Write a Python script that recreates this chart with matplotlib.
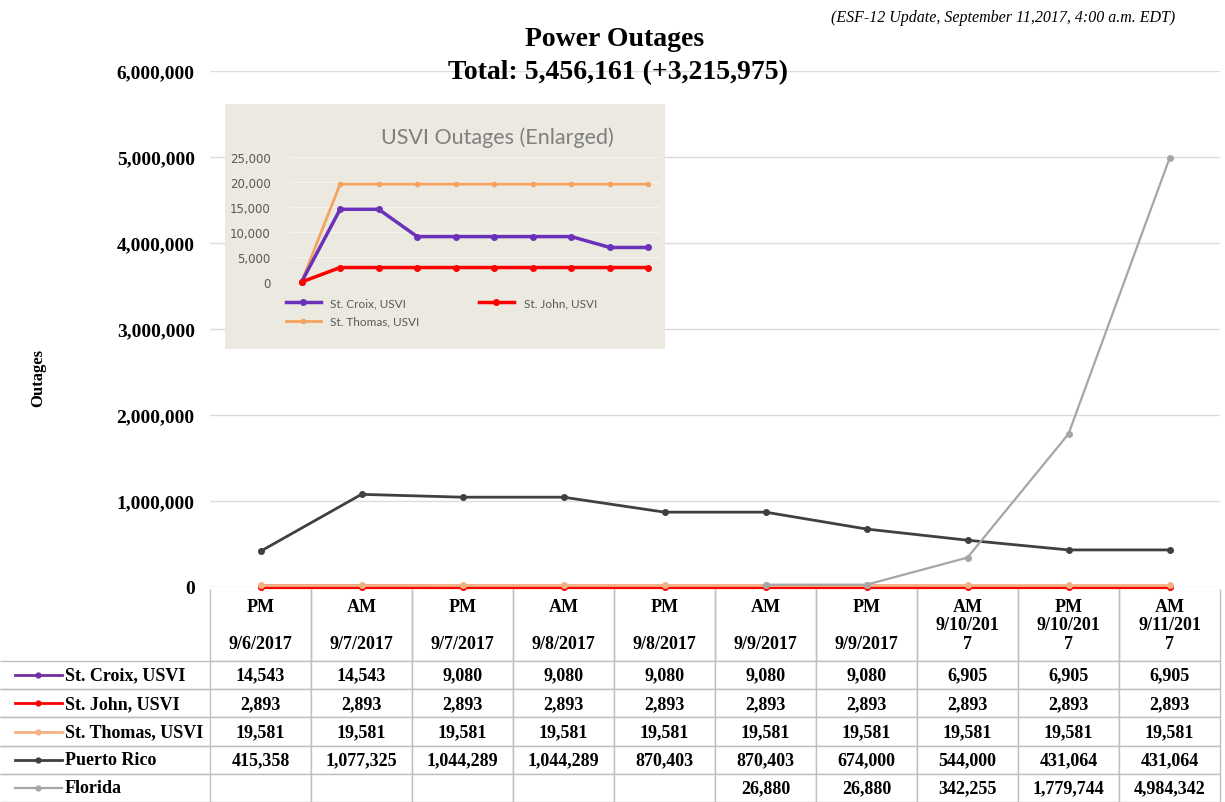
import textwrap
import numpy as np
import matplotlib
matplotlib.use("Agg")
import matplotlib.pyplot as plt
from matplotlib.table import Table
from matplotlib.font_manager import FontProperties
from matplotlib.ticker import FuncFormatter

# reporting periods
periods = ["PM", "AM", "PM", "AM", "PM", "AM", "PM", "AM", "PM", "AM"]
dates = ["9/6/2017", "9/7/2017", "9/7/2017", "9/8/2017", "9/8/2017",
         "9/9/2017", "9/9/2017", "9/10/2017", "9/10/2017", "9/11/2017"]

# customers without power
st_croix = [14543, 14543, 9080, 9080, 9080, 9080, 9080, 6905, 6905, 6905]
st_john = [2893, 2893, 2893, 2893, 2893, 2893, 2893, 2893, 2893, 2893]
st_thomas = [19581, 19581, 19581, 19581, 19581, 19581, 19581, 19581, 19581, 19581]
puerto_rico = [415358, 1077325, 1044289, 1044289, 870403, 870403, 674000, 544000, 431064, 431064]
florida = [None, None, None, None, None, 26880, 26880, 342255, 1779744, 4984342]

# USVI close-up series (starts from the pre-storm zero)
usvi_croix = [0, 14543, 14543, 9080, 9080, 9080, 9080, 9080, 6905, 6905]
usvi_john = [0, 2893, 2893, 2893, 2893, 2893, 2893, 2893, 2893, 2893]
usvi_thomas = [0, 19581, 19581, 19581, 19581, 19581, 19581, 19581, 19581, 19581]

names = ["St. Croix, USVI", "St. John, USVI", "St. Thomas, USVI", "Puerto Rico", "Florida"]
series = [st_croix, st_john, st_thomas, puerto_rico, florida]
colors = ["#7030a0", "#ff0000", "#f4b183", "#404040", "#a6a6a6"]
widths = [2.0, 3.0, 2.0, 2.0, 1.6]

serif = "Liberation Serif"
bold = FontProperties(family=serif, weight="bold", size=13)

W, H = 1225, 803
fig = plt.figure(figsize=(W / 100, H / 100), dpi=100)
ax = fig.add_axes([210 / W, 1 - 588 / H, 1010 / W, 516 / H])

x = np.arange(len(periods))
for vals, col, lw in zip(series, colors, widths):
    y = np.array([np.nan if v is None else v for v in vals], dtype=float)
    ax.plot(x, y, color=col, lw=lw, marker="o", ms=4, zorder=3, clip_on=False)

ax.set_xlim(-0.5, len(periods) - 0.5)
ax.set_ylim(0, 6000000)
ax.set_yticks(np.arange(0, 6000001, 1000000))
ax.yaxis.set_major_formatter(FuncFormatter(lambda v, p: f"{v:,.0f}"))
ax.set_xticks([])
ax.tick_params(axis="y", length=0, pad=11)
for lab in ax.get_yticklabels():
    lab.set_fontproperties(FontProperties(family=serif, weight="bold", size=14))
ax.grid(axis="y", color="#dcdcdc", lw=1)
ax.set_axisbelow(True)
for s in ax.spines.values():
    s.set_visible(False)

# data table underneath the plot
col_w = [210] + [101] * len(periods)
hdr_h, row_h = 72, 28.2
tbl = Table(ax, bbox=[-210 / 1010, (588 - 803) / 516, 1220 / 1010, 213 / 516])
edge = "#bfbfbf"
c = tbl.add_cell(0, 0, width=col_w[0], height=hdr_h, text="", fontproperties=bold)
c.visible_edges = ""
for j, (p, d) in enumerate(zip(periods, dates), start=1):
    lines = textwrap.wrap(d, 8, break_long_words=True)
    if len(lines) == 1:
        lines = [""] + lines
    c = tbl.add_cell(0, j, width=col_w[j], height=hdr_h, text="\n".join([p] + lines),
                     loc="center", edgecolor=edge, fontproperties=bold)
    c.visible_edges = "LRB"
for i, (name, vals) in enumerate(zip(names, series), start=1):
    c = tbl.add_cell(i, 0, width=col_w[0], height=row_h, text=name, loc="left",
                     edgecolor=edge, fontproperties=bold)
    c.visible_edges = "TB"
    c.PAD = 0.31
    for j, v in enumerate(vals, start=1):
        tbl.add_cell(i, j, width=col_w[j], height=row_h,
                     text="" if v is None else f"{v:,}", loc="center",
                     edgecolor=edge, fontproperties=bold)
tbl.auto_set_font_size(False)
for cell in tbl.get_celld().values():
    cell.get_text().set_linespacing(1.1)
ax.add_table(tbl)

# legend keys in the row label column
for i, (col, lw) in enumerate(zip(colors, widths)):
    yc = (588 - (590 + hdr_h + row_h * (i + 0.5))) / 516
    ax.plot([(15 - 210) / 1010, (62 - 210) / 1010], [yc, yc], color=col,
            lw=min(lw, 2.0), transform=ax.transAxes, clip_on=False)
    ax.plot([(38 - 210) / 1010], [yc], color=col, marker="o", ms=3.5,
            transform=ax.transAxes, clip_on=False)

# titles
fig.text(615 / W, 1 - 40 / H, "Power Outages", ha="center", va="center",
         family=serif, weight="bold", size=20)
fig.text(618 / W, 1 - 73 / H, "Total: 5,456,161 (+3,215,975)", ha="center",
         va="center", family=serif, weight="bold", size=20)
fig.text(1175 / W, 1 - 18 / H, "(ESF-12 Update, September 11,2017, 4:00 a.m. EDT)",
         ha="right", va="center", family=serif, style="italic", size=11.5)
fig.text(38 / W, 1 - 378 / H, "Outages", rotation=90, ha="center", va="center",
         family=serif, weight="bold", size=12)

# USVI close-up panel
bg = fig.add_axes([225 / W, 1 - 350 / H, 440 / W, 245 / H])
bg.set_facecolor("#ebe9e0")
bg.set_xticks([])
bg.set_yticks([])
for s in bg.spines.values():
    s.set_visible(False)

ins = fig.add_axes([290 / W, 1 - 283 / H, 370 / W, 125 / H])
ins.patch.set_alpha(0)
xi = np.arange(len(usvi_croix))
ins.plot(xi, usvi_thomas, color="#f4a460", lw=2, marker="o", ms=3, clip_on=False,
         label="St. Thomas, USVI")
ins.plot(xi, usvi_croix, color="#6a32b8", lw=2.5, marker="o", ms=4, clip_on=False,
         label="St. Croix, USVI")
ins.plot(xi, usvi_john, color="#ff0000", lw=2.5, marker="o", ms=4, clip_on=False,
         label="St. John, USVI")
ins.set_xlim(-0.3, len(xi) - 0.7)
ins.set_ylim(0, 25000)
ins.set_yticks(np.arange(0, 25001, 5000))
ins.yaxis.set_major_formatter(FuncFormatter(lambda v, p: f"{v:,.0f}"))
ins.set_xticks([])
ins.tick_params(axis="y", length=0, pad=14, labelsize=8.5, labelcolor="#595959")
ins.grid(axis="y", color="#f5f3ee", lw=1)
for s in ins.spines.values():
    s.set_visible(False)
fig.text(497 / W, 1 - 138 / H, "USVI Outages (Enlarged)", ha="center", va="center",
         family="Lato", size=15.5, color="#7f7f7f")
h, l = ins.get_legend_handles_labels()
# column-major fill: Croix / Thomas in the first column, John in the second
leg = fig.legend([h[1], h[0], h[2]], [l[1], l[0], l[2]], ncol=2, loc="upper left",
                 bbox_to_anchor=(275 / W, 1 - 288 / H), frameon=False,
                 prop={"family": "Lato", "size": 8.5}, handlelength=3,
                 columnspacing=5, labelspacing=0.6)
for t in leg.get_texts():
    t.set_color("#595959")

fig.savefig("out.png", dpi=100)
